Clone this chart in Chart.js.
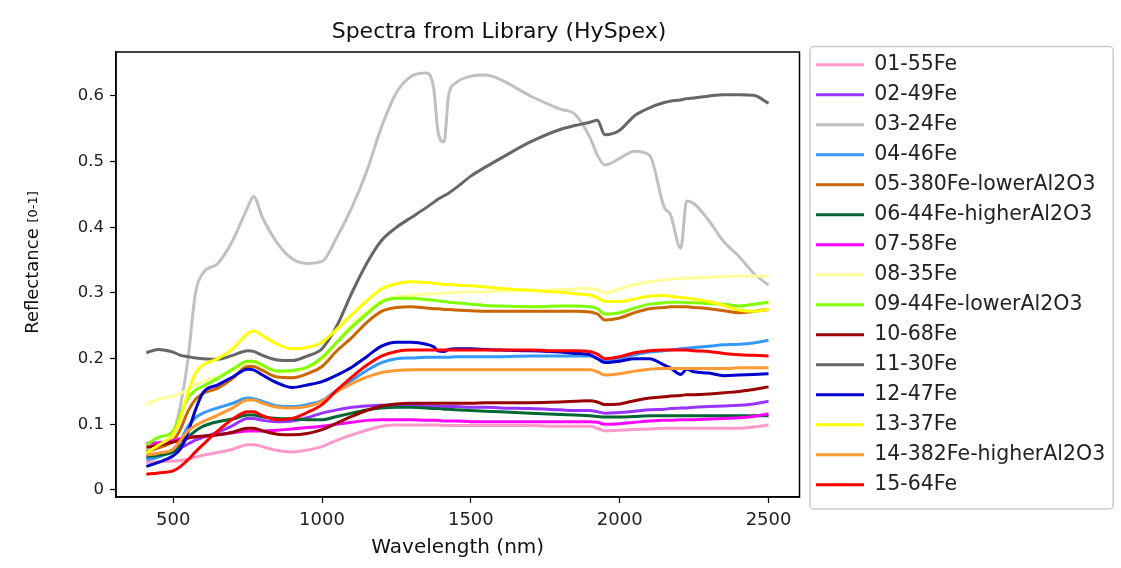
<!DOCTYPE html>
<html>
<head>
<meta charset="utf-8">
<script src="https://cdn.jsdelivr.net/npm/chart.js@4/dist/chart.umd.min.js"></script>
<style>
  body { margin: 0; background: #fff; }
  canvas { display: block; }
</style>
</head>
<body>
<canvas id="spectra" width="1121" height="568"></canvas>
<script>
// wavelengths (nm) shared by every spectrum
const wavelengths = [410, 450, 500, 525, 550, 575, 600, 650, 700, 750,
  770, 800, 850, 900, 950, 1000, 1050, 1100, 1150, 1200,
  1250, 1300, 1350, 1375, 1390, 1410, 1425, 1450, 1500, 1550,
  1600, 1700, 1800, 1850, 1900, 1925, 1950, 2000, 2050, 2100,
  2150, 2170, 2205, 2225, 2250, 2300, 2350, 2400, 2450, 2500];

const xTicks = [500, 1000, 1500, 2000, 2500];
const yTicks = [0, 0.1, 0.2, 0.3, 0.4, 0.5, 0.6];

const sampleNames = ['01-55Fe', '02-49Fe', '03-24Fe', '04-46Fe', '05-380Fe-lowerAl2O3',
  '06-44Fe-higherAl2O3', '07-58Fe', '08-35Fe', '09-44Fe-lowerAl2O3', '10-68Fe',
  '11-30Fe', '12-47Fe', '13-37Fe', '14-382Fe-higherAl2O3', '15-64Fe'];

const colors = ['#ff99cc', '#9933ff', '#c0c0c0', '#3399ff', '#cc6600',
  '#006633', '#ff00ff', '#ffff99', '#80ff00', '#990000',
  '#666666', '#0000cc', '#ffff00', '#ff9933', '#ff0000'];

const s01 = [0.042, 0.043, 0.044, 0.045, 0.047, 0.050, 0.053, 0.057, 0.062, 0.069,
  0.069, 0.066, 0.060, 0.058, 0.061, 0.066, 0.076, 0.084, 0.091, 0.097,
  0.099, 0.099, 0.099, 0.099, 0.099, 0.098, 0.098, 0.098, 0.098, 0.098,
  0.098, 0.098, 0.097, 0.097, 0.097, 0.094, 0.090, 0.091, 0.092, 0.093,
  0.094, 0.094, 0.094, 0.094, 0.094, 0.094, 0.094, 0.094, 0.096, 0.099];
const s02 = [0.050, 0.054, 0.060, 0.064, 0.070, 0.076, 0.080, 0.088, 0.098, 0.109,
  0.109, 0.106, 0.104, 0.105, 0.110, 0.117, 0.122, 0.126, 0.128, 0.129,
  0.129, 0.129, 0.128, 0.128, 0.128, 0.127, 0.127, 0.127, 0.126, 0.126,
  0.125, 0.124, 0.122, 0.121, 0.121, 0.119, 0.117, 0.118, 0.120, 0.122,
  0.123, 0.124, 0.125, 0.125, 0.126, 0.127, 0.128, 0.129, 0.131, 0.135];
const s03 = [0.060, 0.065, 0.085, 0.130, 0.200, 0.300, 0.330, 0.345, 0.380, 0.430,
  0.447, 0.415, 0.376, 0.352, 0.345, 0.348, 0.385, 0.430, 0.485, 0.553,
  0.605, 0.630, 0.635, 0.612, 0.545, 0.530, 0.600, 0.620, 0.630, 0.632,
  0.625, 0.600, 0.580, 0.572, 0.537, 0.510, 0.495, 0.505, 0.516, 0.510,
  0.430, 0.420, 0.368, 0.440, 0.436, 0.410, 0.378, 0.356, 0.330, 0.312];
const s04 = [0.046, 0.050, 0.062, 0.075, 0.097, 0.110, 0.117, 0.125, 0.132, 0.140,
  0.139, 0.135, 0.128, 0.127, 0.130, 0.136, 0.152, 0.167, 0.182, 0.194,
  0.200, 0.201, 0.202, 0.202, 0.202, 0.202, 0.202, 0.203, 0.203, 0.203,
  0.203, 0.204, 0.204, 0.204, 0.204, 0.200, 0.196, 0.200, 0.206, 0.210,
  0.212, 0.213, 0.215, 0.216, 0.217, 0.219, 0.221, 0.222, 0.224, 0.228];
const s05 = [0.058, 0.064, 0.075, 0.093, 0.120, 0.138, 0.147, 0.155, 0.170, 0.188,
  0.188, 0.182, 0.172, 0.171, 0.177, 0.188, 0.212, 0.232, 0.255, 0.272,
  0.278, 0.279, 0.277, 0.276, 0.276, 0.275, 0.275, 0.274, 0.273, 0.272,
  0.272, 0.272, 0.272, 0.272, 0.271, 0.268, 0.259, 0.262, 0.270, 0.276,
  0.278, 0.279, 0.279, 0.279, 0.278, 0.276, 0.273, 0.270, 0.272, 0.275];
const s06 = [0.051, 0.053, 0.058, 0.068, 0.080, 0.090, 0.097, 0.104, 0.108, 0.114,
  0.114, 0.111, 0.109, 0.108, 0.107, 0.107, 0.112, 0.117, 0.122, 0.125,
  0.126, 0.126, 0.125, 0.124, 0.124, 0.123, 0.123, 0.122, 0.121, 0.120,
  0.119, 0.117, 0.115, 0.114, 0.113, 0.112, 0.111, 0.111, 0.112, 0.113,
  0.113, 0.113, 0.113, 0.113, 0.113, 0.113, 0.113, 0.113, 0.113, 0.113];
const s07 = [0.071, 0.072, 0.075, 0.078, 0.080, 0.081, 0.082, 0.084, 0.087, 0.090,
  0.090, 0.090, 0.091, 0.093, 0.095, 0.097, 0.100, 0.103, 0.106, 0.107,
  0.107, 0.107, 0.106, 0.106, 0.106, 0.105, 0.105, 0.105, 0.104, 0.104,
  0.104, 0.104, 0.104, 0.104, 0.104, 0.103, 0.100, 0.101, 0.103, 0.105,
  0.106, 0.106, 0.107, 0.107, 0.107, 0.108, 0.109, 0.110, 0.112, 0.116];
const s08 = [0.130, 0.138, 0.143, 0.147, 0.153, 0.160, 0.165, 0.173, 0.182, 0.193,
  0.193, 0.188, 0.180, 0.180, 0.186, 0.198, 0.225, 0.252, 0.272, 0.288,
  0.294, 0.296, 0.298, 0.299, 0.299, 0.300, 0.300, 0.301, 0.302, 0.302,
  0.303, 0.304, 0.305, 0.306, 0.307, 0.305, 0.300, 0.306, 0.313, 0.317,
  0.320, 0.321, 0.322, 0.323, 0.323, 0.324, 0.325, 0.326, 0.326, 0.325];
const s09 = [0.069, 0.080, 0.090, 0.115, 0.140, 0.152, 0.158, 0.170, 0.184, 0.196,
  0.196, 0.190, 0.181, 0.182, 0.187, 0.202, 0.225, 0.248, 0.268, 0.286,
  0.292, 0.292, 0.290, 0.289, 0.288, 0.287, 0.286, 0.285, 0.283, 0.281,
  0.280, 0.279, 0.280, 0.280, 0.279, 0.276, 0.268, 0.270, 0.277, 0.283,
  0.285, 0.286, 0.286, 0.285, 0.285, 0.284, 0.283, 0.280, 0.283, 0.286];
const s10 = [0.065, 0.068, 0.073, 0.076, 0.079, 0.081, 0.082, 0.084, 0.088, 0.094,
  0.094, 0.090, 0.085, 0.084, 0.086, 0.092, 0.102, 0.112, 0.121, 0.128,
  0.131, 0.132, 0.132, 0.132, 0.132, 0.132, 0.132, 0.132, 0.132, 0.133,
  0.133, 0.133, 0.134, 0.135, 0.136, 0.134, 0.130, 0.131, 0.136, 0.140,
  0.142, 0.143, 0.144, 0.145, 0.145, 0.146, 0.148, 0.150, 0.153, 0.157];
const s11 = [0.209, 0.214, 0.210, 0.205, 0.203, 0.201, 0.200, 0.199, 0.205, 0.212,
  0.211, 0.205, 0.198, 0.197, 0.204, 0.215, 0.250, 0.300, 0.345, 0.380,
  0.400, 0.415, 0.430, 0.438, 0.443, 0.448, 0.452, 0.460, 0.478, 0.492,
  0.505, 0.530, 0.549, 0.555, 0.560, 0.563, 0.541, 0.548, 0.570, 0.582,
  0.590, 0.592, 0.594, 0.596, 0.597, 0.600, 0.602, 0.602, 0.601, 0.589];
const s12 = [0.036, 0.042, 0.052, 0.063, 0.088, 0.122, 0.148, 0.160, 0.172, 0.184,
  0.183, 0.175, 0.163, 0.156, 0.160, 0.165, 0.175, 0.187, 0.203, 0.219,
  0.225, 0.225, 0.222, 0.218, 0.212, 0.211, 0.214, 0.215, 0.215, 0.214,
  0.213, 0.212, 0.210, 0.208, 0.206, 0.200, 0.194, 0.196, 0.200, 0.200,
  0.190, 0.186, 0.176, 0.184, 0.180, 0.178, 0.174, 0.175, 0.176, 0.177];
const s13 = [0.056, 0.068, 0.085, 0.110, 0.148, 0.178, 0.190, 0.200, 0.215, 0.238,
  0.242, 0.235, 0.222, 0.215, 0.217, 0.225, 0.245, 0.267, 0.288, 0.306,
  0.314, 0.317, 0.316, 0.315, 0.314, 0.313, 0.313, 0.312, 0.311, 0.309,
  0.307, 0.304, 0.301, 0.299, 0.297, 0.293, 0.287, 0.287, 0.291, 0.295,
  0.296, 0.295, 0.293, 0.292, 0.291, 0.287, 0.281, 0.274, 0.272, 0.275];
const s14 = [0.053, 0.056, 0.062, 0.076, 0.090, 0.098, 0.104, 0.114, 0.125, 0.137,
  0.137, 0.132, 0.126, 0.125, 0.127, 0.135, 0.150, 0.162, 0.172, 0.179,
  0.182, 0.183, 0.183, 0.183, 0.183, 0.183, 0.183, 0.183, 0.183, 0.183,
  0.183, 0.183, 0.183, 0.183, 0.183, 0.180, 0.175, 0.177, 0.181, 0.184,
  0.185, 0.185, 0.185, 0.185, 0.185, 0.185, 0.185, 0.186, 0.186, 0.186];
const s15 = [0.024, 0.026, 0.029, 0.036, 0.046, 0.058, 0.069, 0.090, 0.108, 0.119,
  0.119, 0.113, 0.107, 0.109, 0.118, 0.130, 0.152, 0.172, 0.190, 0.204,
  0.211, 0.213, 0.213, 0.213, 0.213, 0.213, 0.213, 0.213, 0.213, 0.213,
  0.213, 0.213, 0.212, 0.212, 0.211, 0.207, 0.200, 0.203, 0.209, 0.212,
  0.213, 0.213, 0.213, 0.213, 0.212, 0.211, 0.208, 0.206, 0.205, 0.204];

const spectra = [s01, s02, s03, s04, s05, s06, s07, s08, s09, s10, s11, s12, s13, s14, s15];

const datasets = spectra.map(function (values, i) {
  return {
    label: sampleNames[i],
    data: values.map(function (v, j) { return { x: wavelengths[j], y: v }; }),
    borderColor: colors[i],
    backgroundColor: colors[i],
    borderWidth: 3,
    pointRadius: 0,
    cubicInterpolationMode: 'monotone',
    // later samples are drawn on top, like the original plot
    order: spectra.length - i
  };
});

const FONT = '"DejaVu Sans", sans-serif';

// frame, titles and the box round the legend
const decorations = {
  id: 'decorations',
  afterLayout: function (chart) {
    // nudge the legend a little right and up, as in the original
    const lg = chart.legend;
    const dx = chart.chartArea.right + 7 - lg.left;
    lg.left += dx; lg.right += dx;
    lg.top -= 7; lg.bottom -= 7;
  },
  afterDraw: function (chart) {
    const ctx = chart.ctx;
    const area = chart.chartArea;
    ctx.save();
    ctx.strokeStyle = '#000';
    ctx.lineWidth = 1.5;
    ctx.strokeRect(area.left, area.top, area.right - area.left, area.bottom - area.top);

    ctx.fillStyle = '#111';
    ctx.textAlign = 'center';
    ctx.textBaseline = 'middle';
    ctx.font = '22px ' + FONT;
    ctx.fillText('Spectra from Library (HySpex)', 499, 32);

    ctx.font = '20px ' + FONT;
    ctx.fillText('Wavelength (nm)', (area.left + area.right) / 2, 548);

    // y title: big word plus small unit
    ctx.translate(33, (area.top + area.bottom) / 2 - 12);
    ctx.rotate(-Math.PI / 2);
    ctx.textAlign = 'left';
    ctx.font = '18px ' + FONT;
    const main = 'Reflectance ';
    const w1 = ctx.measureText(main).width;
    ctx.font = '13px ' + FONT;
    const w2 = ctx.measureText('[0-1]').width;
    const start = -(w1 + w2) / 2;
    ctx.font = '18px ' + FONT;
    ctx.fillText(main, start, 0);
    ctx.font = '13px ' + FONT;
    ctx.fillText('[0-1]', start + w1, 1);
    ctx.restore();

    const boxes = chart.legend.legendHitBoxes;
    if (boxes && boxes.length) {
      let l = Infinity, t = Infinity, r = -Infinity, b = -Infinity;
      boxes.forEach(function (h) {
        l = Math.min(l, h.left); t = Math.min(t, h.top);
        r = Math.max(r, h.left + h.width); b = Math.max(b, h.top + h.height);
      });
      ctx.save();
      ctx.strokeStyle = '#cccccc';
      ctx.lineWidth = 1.5;
      ctx.beginPath();
      ctx.roundRect(l - 6, t - 8, r - l + 14, b - t + 22, 4);
      ctx.stroke();
      ctx.restore();
    }
  }
};

new Chart(document.getElementById('spectra'), {
  type: 'line',
  data: { datasets: datasets },
  plugins: [decorations],
  options: {
    responsive: false,
    animation: false,
    // negative left padding only widens the room the layout grants the legend
    layout: { padding: { top: 52, right: 15, left: -120, bottom: 0 } },
    plugins: {
      title: { display: false },
      tooltip: { enabled: false },
      legend: {
        position: 'right',
        align: 'start',
        labels: {
          usePointStyle: true,
          pointStyle: 'line',
          pointStyleWidth: 48,
          padding: 9.5,
          color: '#222',
          font: { family: FONT, size: 20.5 },
          sort: function (a, b) { return a.datasetIndex - b.datasetIndex; }
        }
      }
    },
    scales: {
      x: {
        type: 'linear',
        min: 308,
        max: 2604,
        afterFit: function (scale) { scale.height = 71; },
        afterBuildTicks: function (scale) {
          scale.ticks = xTicks.map(function (v) { return { value: v }; });
        },
        ticks: {
          color: '#222',
          padding: 7,
          font: { family: FONT, size: 18 },
          callback: function (v) { return String(v); }
        },
        grid: { drawOnChartArea: false, drawTicks: true, tickLength: 6, color: '#000', tickWidth: 1.2 },
        border: { display: true, color: '#000', width: 1.5 }
      },
      y: {
        min: -0.0107,
        max: 0.667,
        afterFit: function (scale) { scale.width = 236; },
        afterBuildTicks: function (scale) {
          scale.ticks = yTicks.map(function (v) { return { value: v }; });
        },
        ticks: {
          color: '#222',
          padding: 6,
          font: { family: FONT, size: 16.5 },
          callback: function (v) { return String(Math.round(v * 10) / 10); }
        },
        grid: { drawOnChartArea: false, drawTicks: true, tickLength: 6, color: '#000', tickWidth: 1.2 },
        border: { display: true, color: '#000', width: 1.5 }
      }
    }
  }
});
</script>
</body>
</html>
